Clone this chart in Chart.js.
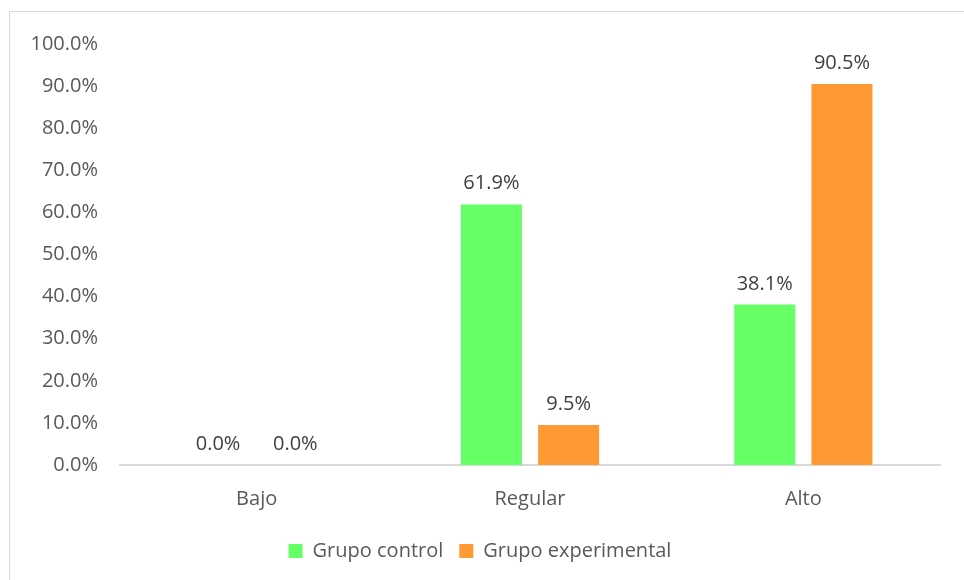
<!DOCTYPE html>
<html>
<head>
<meta charset="utf-8">
<script src="https://cdn.jsdelivr.net/npm/chart.js@4.4.1/dist/chart.umd.min.js"></script>
<style>
  html, body { margin: 0; padding: 0; background: #fff; }
  #marco { position: absolute; left: 9px; top: 11px; width: 960px; height: 580px; border: 1px solid #d9d9d9; box-sizing: border-box; }
  #lienzo { position: absolute; left: 0; top: 0; width: 964px; height: 580px; }
</style>
</head>
<body>
<div id="marco"></div>
<div id="lienzo"><canvas id="grafico" width="964" height="580"></canvas></div>
<script>
// Niveles por grupo (porcentajes)
const categorias = ['Bajo', 'Regular', 'Alto'];
const grupoControl = [0.0, 61.9, 38.1];
const grupoExperimental = [0.0, 9.5, 90.5];
const marcasY = [0, 10, 20, 30, 40, 50, 60, 70, 80, 90, 100];

const fuente = "'Open Sans', 'Liberation Sans', sans-serif";
const tamano = 20;

// Etiquetas de valor sobre cada barra
const etiquetasValor = {
  id: 'etiquetasValor',
  afterDatasetsDraw(chart) {
    const ctx = chart.ctx;
    ctx.save();
    ctx.font = tamano + 'px ' + fuente;
    ctx.fillStyle = '#404040';
    ctx.textAlign = 'center';
    ctx.textBaseline = 'alphabetic';
    chart.data.datasets.forEach((ds, i) => {
      chart.getDatasetMeta(i).data.forEach((barra, j) => {
        ctx.fillText(ds.data[j].toFixed(1) + '%', barra.x, barra.y - 15);
      });
    });
    ctx.restore();
  }
};

new Chart(document.getElementById('grafico'), {
  type: 'bar',
  data: {
    labels: categorias,
    datasets: [
      { label: 'Grupo control', data: grupoControl, backgroundColor: '#66ff66' },
      { label: 'Grupo experimental', data: grupoExperimental, backgroundColor: '#ff9933' }
    ]
  },
  options: {
    responsive: false,
    animation: false,
    devicePixelRatio: 1,
    categoryPercentage: 0.565,
    barPercentage: 0.79,
    layout: { padding: { left: 20, right: 24, top: 44, bottom: 9 } },
    plugins: {
      legend: {
        position: 'bottom',
        labels: {
          font: { family: fuente, size: tamano },
          color: '#595959',
          boxWidth: 14,
          boxHeight: 14,
          padding: 16
        }
      },
      tooltip: { enabled: false }
    },
    scales: {
      x: {
        grid: { display: false },
        border: { color: '#d9d9d9', width: 2 },
        ticks: { font: { family: fuente, size: tamano }, color: '#595959', padding: 14 }
      },
      y: {
        min: 0,
        max: 100,
        afterFit(escala) { escala.width = 100; },
        afterBuildTicks(escala) { escala.ticks = marcasY.map(v => ({ value: v })); },
        grid: { display: false },
        border: { display: false },
        ticks: {
          font: { family: fuente, size: tamano },
          color: '#595959',
          padding: 14,
          callback: v => v.toFixed(1) + '%'
        }
      }
    }
  },
  plugins: [etiquetasValor]
});
</script>
</body>
</html>
